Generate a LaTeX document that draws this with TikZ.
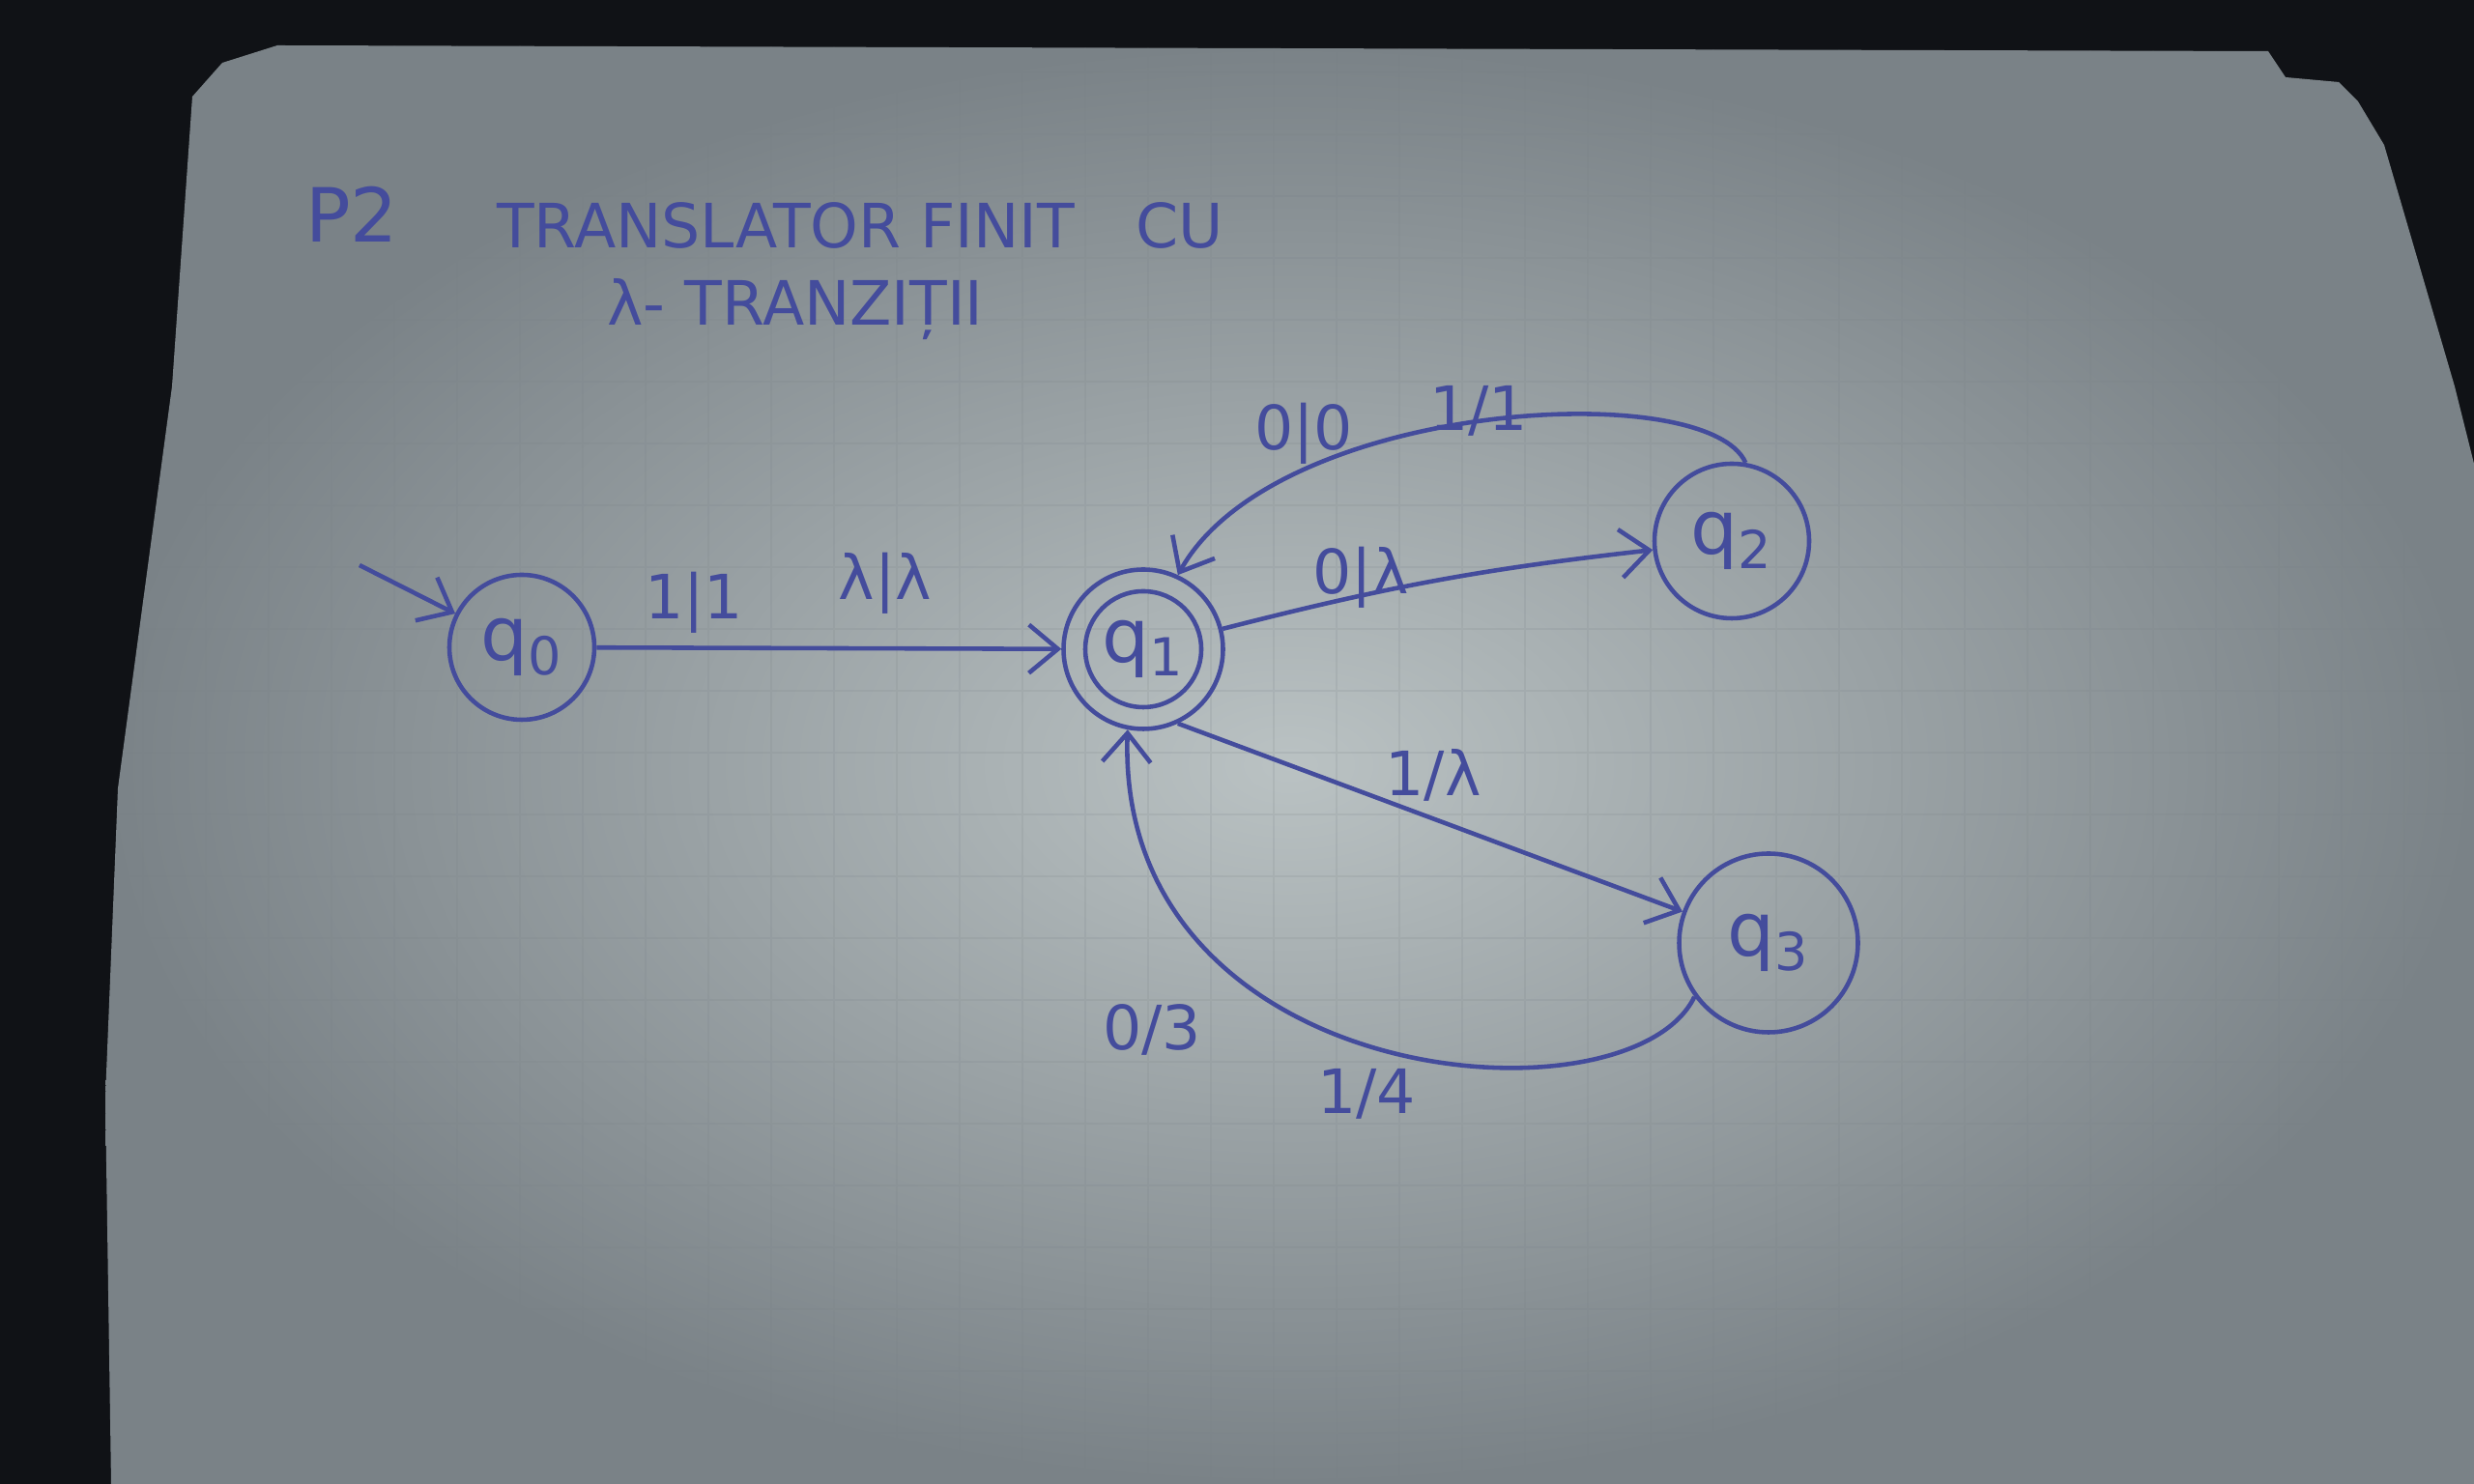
\documentclass[tikz,border=0pt]{standalone}
\usepackage{fontspec}
\setmainfont{DejaVu Sans}
\usepackage{xcolor}
\usepackage{tikz}
\usetikzlibrary{arrows.meta, positioning, calc}

\definecolor{ink}{RGB}{68,76,156}
\definecolor{paperlight}{RGB}{186,194,195}
\definecolor{paperdark}{RGB}{122,130,135}
\definecolor{desk}{RGB}{16,18,22}

\begin{document}
\begin{tikzpicture}[
		state/.style={circle, draw=ink, line width=1.3pt, text=ink, inner sep=0pt, font=\fontsize{22}{26}\selectfont},
		lbl/.style={text=ink, inner sep=1pt, font=\fontsize{18}{22}\selectfont},
		title/.style={text=ink, inner sep=0pt, font=\fontsize{18}{22}\selectfont},
		arrow/.style={-{Straight Barb[length=3mm, width=5mm]}, draw=ink, line width=1.3pt},
		gridline/.style={draw=paperdark, line width=0.7pt, opacity=0.16}
		]
		
		\useasboundingbox (0,0) rectangle (25.6,15.36);
		
		% Desk and sheet of squared paper
		\fill[desk] (0,0) rectangle (25.6,15.36);
		\path[shade, inner color=paperlight, outer color=paperdark]
			(1.15,0) -- (1.09,4.00) -- (1.22,7.20) -- (1.78,11.36) -- (1.99,14.36)
			-- (2.30,14.71) -- (2.87,14.89) -- (23.47,14.83) -- (23.65,14.56)
			-- (24.20,14.51) -- (24.40,14.31) -- (24.67,13.86) -- (25.40,11.36)
			-- (25.6,10.56) -- (25.6,0) -- cycle;
		\begin{scope}
			\clip (1.15,0) -- (1.09,4.00) -- (1.22,7.20) -- (1.78,11.36) -- (1.99,14.36)
				-- (2.30,14.71) -- (2.87,14.89) -- (23.47,14.83) -- (25.40,11.36)
				-- (25.6,10.56) -- (25.6,0) -- cycle;
			\draw[gridline, xstep=0.65, ystep=0.64, shift={(1.48,0.53)}] (-1,-1) grid (25,15);
		\end{scope}
		
		% Heading
		\node[title, font=\fontsize{22}{26}\selectfont] (prob) at (3.64, 13.14) {P2};
		\node[title] (head1) at (8.90, 13.03) {TRANSLATOR FINIT\quad CU};
		\node[title] (head2) at (8.23, 12.16) {λ- TRANZIȚII};
		
		% States
		\node[state, minimum size=1.5cm] (q0) at (5.40, 8.66) {q\textsubscript{0}};
		\node[state, minimum size=1.65cm] (q1) at (11.83, 8.64) {q\textsubscript{1}};
		\node[state, minimum size=1.6cm] (q2) at (17.92, 9.76) {q\textsubscript{2}};
		\node[state, minimum size=1.85cm] (q3) at (18.30, 5.60) {q\textsubscript{3}};
		\coordinate (start) at (3.72, 9.51);
		
		% Inner ring of the final state
		\draw[ink, line width=1.3pt] (q1.center) circle[radius=0.6];
		
		% Transitions
		\draw[arrow] (start) -- (q0);
		\draw[arrow] (q0) -- (q1);
		\draw[arrow] (q1) to[bend left=4] (q2);
		\draw[arrow] (q2.80) .. controls +(-0.4,0.9) and +(1.0,1.8) .. (q1.65);
		\draw[arrow] (q1.-65) -- (q3.160);
		\draw[arrow] (q3.216) .. controls +(-0.67,-1.39) and +(-0.13,-3.75) .. (q1.259);
		
		% Transition labels
		\node[lbl] (l01a) at (7.18, 9.12) {1|1};
		\node[lbl] (l01b) at (9.16, 9.32) {λ|λ};
		\node[lbl] (l12) at (14.08, 9.38) {0|λ};
		\node[lbl] (l21a) at (13.49, 10.87) {0|0};
		\node[lbl] (l21b) at (15.30, 11.11) {1/1};
		\node[lbl] (l13) at (14.83, 7.34) {1/λ};
		\node[lbl] (l31a) at (11.92, 4.70) {0/3};
		\node[lbl] (l31b) at (14.14, 4.04) {1/4};
		
	\end{tikzpicture}
\end{document}
